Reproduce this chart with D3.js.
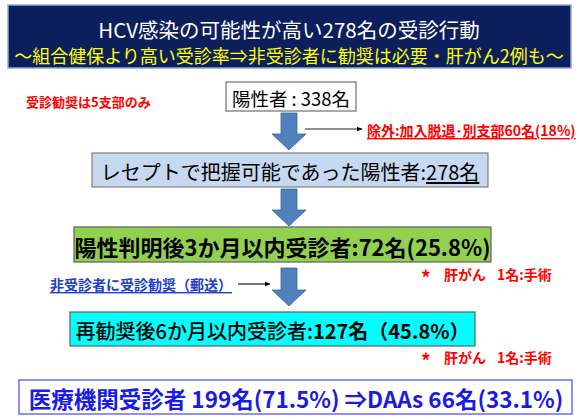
<!DOCTYPE html>
<html><head><meta charset="utf-8">
<script src="https://cdn.jsdelivr.net/npm/d3@7"></script>
<style>
html,body{margin:0;padding:0;background:#fff;}
svg{display:block;font-family:"Noto Sans CJK JP","Noto Sans",sans-serif;}
</style></head>
<body>
<svg id="c" width="579" height="419"></svg>
<script>
// ---- data ----
const titleMain = "HCV感染の可能性が高い278名の受診行動";
const titleSub = "～組合健保より高い受診率⇒非受診者に勧奨は必要・肝がん2例も～";
const stepLabels = ["陽性者", "レセプトで把握可能であった陽性者", "陽性判明後3か月以内受診者", "再勧奨後6か月以内受診者"];
const stepCounts = [338, 278, 72, 127];
const stepPercents = [null, null, 25.8, 45.8];
const excludedCount = [60];
const excludedPercent = [18];
const cancerNoteParts = ["*", "肝がん", "1名:手術"];
const cancerNoteCounts = [1, 1];
const sideNotes = ["受診勧奨は5支部のみ", "非受診者に受診勧奨（郵送）"];
const finalLabel = ["医療機関受診者"];
const finalCount = [199];
const finalPercent = [71.5];
const daasCount = [66];
const daasPercent = [33.1];

// ---- layout ----
const svg = d3.select("#c");
const cx = 289;
const boxGeom = [
  {x0:226, x1:356, y0:82, y1:111, fill:"#ffffff", stroke:"#6f6f6f", size:18.5},
  {x0:92, x1:488, y0:153, y1:187, fill:"#c6d9f1", stroke:"#7f7f7f", size:20},
  {x0:74, x1:491, y0:227, y1:262, fill:"#92d050", stroke:"#5f5f5f", size:22},
  {x0:70, x1:475, y0:312, y1:346, fill:"#00ffff", stroke:"#5f5f5f", size:20}
];
const arrowY = [[113,150],[189,226],[268,306]];

// title
svg.append("rect").attr("x",8).attr("y",5).attr("width",563).attr("height",63)
  .attr("fill","#0c1f5c").attr("stroke","#8ea9d8").attr("stroke-width",1.5);
svg.append("text").attr("x",cx).attr("y",29).attr("text-anchor","middle").attr("dominant-baseline","central")
  .attr("fill","#ffffff").attr("font-size",20.5).text(titleMain);
svg.append("text").attr("x",cx).attr("y",55).attr("text-anchor","middle").attr("dominant-baseline","central")
  .attr("fill","#ffff00").attr("font-size",18).text(titleSub);

// arrows
const arrowPath = (y0,y1)=>{
  const sw=8, hw=17, hh=16;
  const p=d3.path();
  p.moveTo(cx-sw,y0);p.lineTo(cx+sw,y0);p.lineTo(cx+sw,y1-hh);p.lineTo(cx+hw,y1-hh);
  p.lineTo(cx,y1);p.lineTo(cx-hw,y1-hh);p.lineTo(cx-sw,y1-hh);p.closePath();
  return p.toString();
};
svg.selectAll("path.arrow").data(arrowY).join("path").attr("class","arrow")
  .attr("d",d=>arrowPath(d[0],d[1])).attr("fill","#4f81bd").attr("stroke","#3c6799").attr("stroke-width",0.8);

// boxes
const g = svg.selectAll("g.step").data(stepLabels.map((l,i)=>({l,i,c:stepCounts[i],p:stepPercents[i],b:boxGeom[i]})))
  .join("g").attr("class","step");
g.append("rect").attr("x",d=>d.b.x0).attr("y",d=>d.b.y0).attr("width",d=>d.b.x1-d.b.x0).attr("height",d=>d.b.y1-d.b.y0)
  .attr("fill",d=>d.b.fill).attr("stroke",d=>d.b.stroke).attr("stroke-width",1.2);
const t = g.append("text").attr("x",d=>(d.b.x0+d.b.x1)/2).attr("y",d=>(d.b.y0+d.b.y1)/2+1)
  .attr("text-anchor","middle").attr("dominant-baseline","central").attr("font-size",d=>d.b.size).attr("fill","#000");
t.each(function(d){
  const s=d3.select(this);
  if(d.i===0){ s.text(d.l+" : "+d.c+"名"); }
  else if(d.i===1){ s.append("tspan").text(d.l+":"); s.append("tspan").attr("text-decoration","underline").text(d.c+"名"); }
  else if(d.i===2){ s.attr("font-weight","bold").text(d.l+":"+d.c+"名("+d.p+"%)"); }
  else { s.append("tspan").attr("font-weight","500").text(d.l+":"); s.append("tspan").attr("font-weight","bold").text(d.c+"名（"+d.p+"%）"); }
});

// markers
svg.append("defs").append("marker").attr("id","ah").attr("viewBox","0 0 10 10").attr("refX",9).attr("refY",5)
  .attr("markerWidth",5).attr("markerHeight",5).attr("orient","auto")
  .append("path").attr("d","M0,1L10,5L0,9z").attr("fill","#000");

// exclusion connector
svg.append("line").attr("x1",305).attr("x2",362).attr("y1",129).attr("y2",129).attr("stroke","#222").attr("stroke-width",1.2).attr("marker-end","url(#ah)");
svg.append("text").attr("x",367).attr("y",130).attr("dominant-baseline","central").attr("font-size",14).attr("font-weight","bold")
  .attr("fill","#ff0000").attr("text-decoration","underline").text("除外:加入脱退･別支部"+excludedCount[0]+"名("+excludedPercent[0]+"%)");

// side notes
svg.append("text").attr("x",26).attr("y",101).attr("dominant-baseline","central").attr("font-size",13).attr("font-weight","bold")
  .attr("fill","#ff0000").text(sideNotes[0]);
svg.append("text").attr("x",50).attr("y",284).attr("dominant-baseline","central").attr("font-size",14).attr("font-weight","bold")
  .attr("fill","#2040c8").attr("text-decoration","underline").text(sideNotes[1]);
svg.append("line").attr("x1",238).attr("x2",270).attr("y1",284).attr("y2",284).attr("stroke","#222").attr("stroke-width",1.2).attr("marker-end","url(#ah)");

// cancer notes
const noteX = [421, 444, 497];
const noteY = [274, 357];
const ng = svg.selectAll("g.note").data(cancerNoteCounts).join("g").attr("class","note");
ng.each(function(c,i){
  const gg=d3.select(this);
  gg.selectAll("text").data(cancerNoteParts.map((p,j)=>j===2? c+p.slice(1):p)).join("text")
    .attr("x",(d,j)=>noteX[j]).attr("y",(d,j)=>noteY[i]+(j===0?2:0)).attr("dominant-baseline","central")
    .attr("font-size",(d,j)=>j===0?19:14).attr("font-weight","bold").attr("fill","#ff0000").text(d=>d);
});

// final box
svg.append("rect").attr("x",19).attr("y",380).attr("width",553).attr("height",34).attr("fill","#fff").attr("stroke","#6b6bf5").attr("stroke-width",1.5);
svg.append("text").attr("x",296).attr("y",398).attr("text-anchor","middle").attr("dominant-baseline","central")
  .attr("font-size",22.5).attr("font-weight","bold").attr("fill","#1a1ae6")
  .text(finalLabel[0]+" "+finalCount[0]+"名("+finalPercent[0]+"%) ⇒DAAs "+daasCount[0]+"名("+daasPercent[0]+"%)");
</script>
</body></html>
